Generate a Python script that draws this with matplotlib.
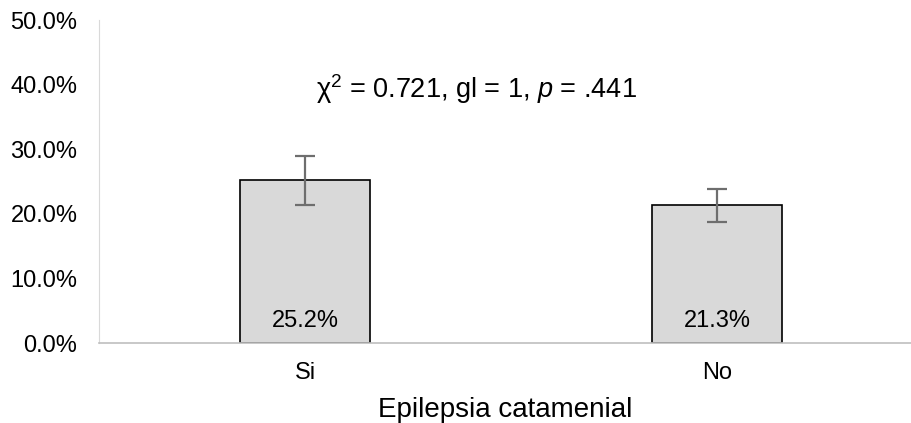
import matplotlib
matplotlib.use('Agg')
import matplotlib.pyplot as plt
import matplotlib.ticker as mtick
import numpy as np

plt.rcParams['font.family'] = ['Liberation Sans', 'DejaVu Sans']
plt.rcParams['mathtext.fontset'] = 'custom'
plt.rcParams['mathtext.rm'] = 'Liberation Sans'
plt.rcParams['mathtext.it'] = 'Liberation Sans:italic'

categories = ['Si', 'No']
values = [25.2, 21.3]
err_low = [21.4, 18.8]
err_high = [29.0, 23.9]
stat_text = 'χ$^{2}$ = 0.721, gl = 1, $p$ = .441'
x_title = 'Epilepsia catamenial'

x = np.arange(len(categories))
v = np.array(values)
yerr = [v - np.array(err_low), np.array(err_high) - v]

fig = plt.figure(figsize=(9.12, 4.23), dpi=100)
ax = fig.add_axes([99/912, 1 - 343/423, 1 - 99/912, 323/423])

ax.bar(x, v, width=0.316, color='#d9d9d9', edgecolor='black', linewidth=1.2, zorder=2)
ax.errorbar(x, v, yerr=yerr, fmt='none', ecolor='#6e6e6e', elinewidth=1.6,
            capsize=7, capthick=1.6, zorder=3)
for xi, vi in zip(x, values):
    ax.text(xi, 3.4, '%.1f%%' % vi, ha='center', va='center', fontsize=17)

ax.text(0.415, 39.3, stat_text, ha='center', va='center', fontsize=19.5)

ax.set_xlim(-0.5, -0.5 + 813/412)
ax.set_ylim(0, 50)
ax.set_yticks(np.arange(0, 51, 10))
ax.yaxis.set_major_formatter(mtick.FormatStrFormatter('%.1f%%'))
ax.set_xticks(x)
ax.set_xticklabels(categories)
ax.tick_params(axis='both', length=0, labelsize=17)
ax.tick_params(axis='y', pad=15.5)
ax.tick_params(axis='x', pad=14)
ax.set_xlabel(x_title, fontsize=20, labelpad=9)

for s in ['top', 'right']:
    ax.spines[s].set_visible(False)
ax.spines['left'].set_color('#d9d9d9')
ax.spines['bottom'].set_color('#bfbfbf')
ax.spines['bottom'].set_linewidth(1.2)

plt.savefig('out.png', dpi=100)
